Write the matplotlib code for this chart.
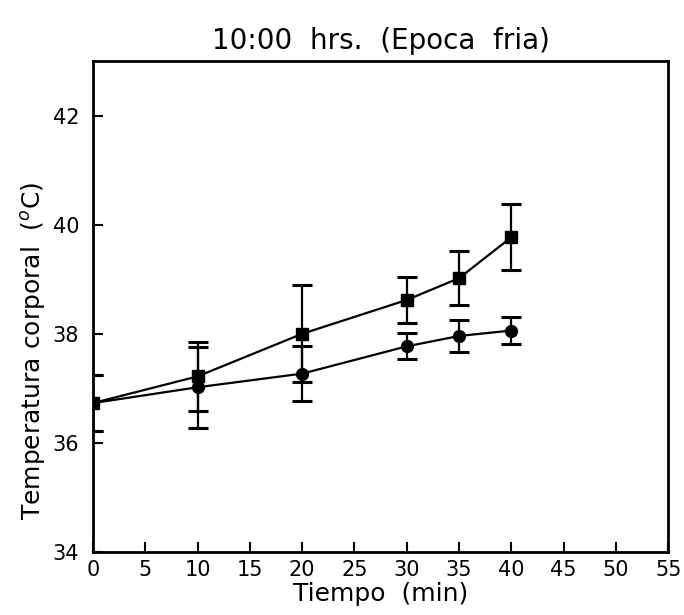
import matplotlib
matplotlib.use('Agg')
import matplotlib.pyplot as plt

# Tiempo (min)
tiempo = [0, 10, 20, 30, 35, 40]

# serie con cuadrados
temp_cuad = [36.73, 37.22, 38.00, 38.62, 39.02, 39.77]
err_cuad = [0.51, 0.63, 0.89, 0.43, 0.49, 0.60]

# serie con circulos
temp_circ = [36.73, 37.02, 37.27, 37.77, 37.96, 38.06]
err_circ = [0.51, 0.74, 0.50, 0.24, 0.30, 0.25]

xticks = [0, 5, 10, 15, 20, 25, 30, 35, 40, 45, 50, 55]
yticks = [34, 36, 38, 40, 42]

plt.rcParams['font.family'] = 'DejaVu Sans'

fig = plt.figure(figsize=(6.84, 6.15), dpi=100)
ax = fig.add_axes([0.136, 0.1024, 0.841, 0.7984])

ax.errorbar(tiempo, temp_cuad, yerr=err_cuad, color='black', marker='s',
            markersize=9, linewidth=1.6, elinewidth=1.6, capsize=7,
            capthick=2.2, zorder=3)
ax.errorbar(tiempo, temp_circ, yerr=err_circ, color='black', marker='o',
            markersize=8.5, linewidth=1.6, elinewidth=1.6, capsize=7,
            capthick=2.2, zorder=3)

ax.set_xlim(0, 55)
ax.set_ylim(34, 43)
ax.set_xticks(xticks)
ax.set_yticks(yticks)
ax.tick_params(axis='x', direction='in', length=7, width=1.5, labelsize=15, pad=6)
ax.tick_params(axis='y', direction='in', length=7, width=1.5, labelsize=15, pad=10)

for s in ax.spines.values():
    s.set_linewidth(2)

ax.set_xlabel('Tiempo  (min)', fontsize=18, labelpad=1)
ax.set_ylabel('Temperatura corporal  ($^{o}$C)', fontsize=18)
ax.yaxis.set_label_coords(-0.078, 0.41)
ax.set_title('10:00  hrs.  (Epoca  fria)', fontsize=20, pad=9)

fig.savefig('out.png', dpi=100)
